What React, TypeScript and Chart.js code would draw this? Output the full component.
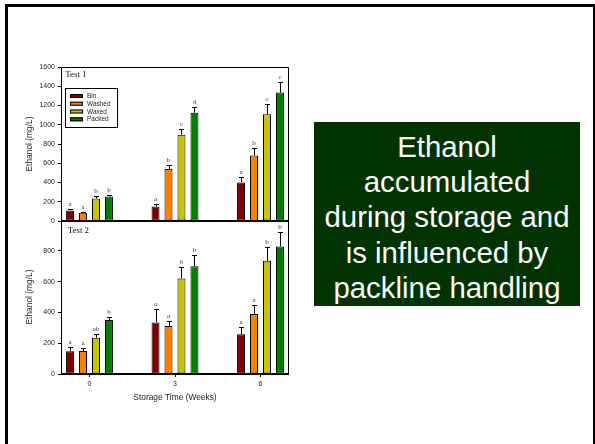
import React, { useEffect, useRef } from 'react';
import { Chart, registerables } from 'chart.js';
Chart.register(...registerables);

const FONT = '"Liberation Sans", Arial, sans-serif';
const SERIF = '"Liberation Serif", "Times New Roman", serif';

const weeks = [0, 3, 6];
const treatments = ['Bin', 'Washed', 'Waxed', 'Packed'];
const barColors = ['#800000', '#FF8000', '#C8C400', '#008000'];

// Test 1 (rows: Bin, Washed, Waxed, Packed; columns: week 0, 3, 6)
const test1Means = [
  [110, 150, 400],
  [85, 540, 680],
  [235, 895, 1110],
  [255, 1125, 1335],
];
const test1Errors = [
  [15, 30, 58],
  [8, 42, 80],
  [22, 60, 110],
  [20, 60, 105],
];
const test1Letters = [
  ['a', 'a', 'a'],
  ['a', 'b', 'b'],
  ['b', 'c', 'c'],
  ['b', 'd', 'c'],
];

// Test 2
const test2Means = [
  [148, 335, 258],
  [150, 312, 390],
  [235, 620, 735],
  [350, 700, 828],
];
const test2Errors = [
  [25, 90, 46],
  [22, 32, 55],
  [27, 72, 90],
  [18, 70, 92],
];
const test2Letters = [
  ['a', 'a', 'a'],
  ['a', 'a', 'a'],
  ['ab', 'b', 'b'],
  ['b', 'b', 'b'],
];

const test1YTicks = [0, 200, 400, 600, 800, 1000, 1200, 1400, 1600];
const test2YTicks = [0, 200, 400, 600, 800];
const weekTicks = [0, 3, 6];

function makePlugin(
  means: number[][],
  errors: number[][],
  letters: string[][],
  panelLabel: string,
  labelPos: [number, number],
  showLegend: boolean
) {
  return {
    id: 'panelDecor',
    afterDatasetsDraw(chart: any) {
      const { ctx, scales } = chart;
      const y = scales.y;
      ctx.save();
      ctx.strokeStyle = '#000';
      ctx.lineWidth = 1;
      chart.data.datasets.forEach((_ds: any, di: number) => {
        const meta = chart.getDatasetMeta(di);
        meta.data.forEach((bar: any, i: number) => {
          const mean = means[di][i];
          const err = errors[di][i];
          const xx = Math.round(bar.x) + 0.5;
          const yTop = bar.y;
          const yErr = Math.round(y.getPixelForValue(mean + err)) + 0.5;
          ctx.beginPath();
          ctx.moveTo(xx, yTop);
          ctx.lineTo(xx, yErr);
          ctx.moveTo(xx - 2.5, yErr);
          ctx.lineTo(xx + 2.5, yErr);
          ctx.stroke();
          ctx.fillStyle = '#333';
          ctx.font = `7px ${SERIF}`;
          ctx.textAlign = 'center';
          ctx.textBaseline = 'alphabetic';
          ctx.fillText(letters[di][i], bar.x, yErr - 3.5);
        });
      });
      ctx.restore();
    },
    afterDraw(chart: any) {
      const { ctx, chartArea } = chart;
      const { left, right, top, bottom } = chartArea;
      ctx.save();
      ctx.strokeStyle = '#000';
      ctx.lineWidth = 1;
      ctx.beginPath();
      ctx.moveTo(left + 0.5, bottom);
      ctx.lineTo(left + 0.5, top + 0.5);
      ctx.lineTo(right - 0.5, top + 0.5);
      ctx.lineTo(right - 0.5, bottom);
      ctx.stroke();
      ctx.lineWidth = 2;
      ctx.beginPath();
      ctx.moveTo(left, bottom);
      ctx.lineTo(right, bottom);
      ctx.stroke();

      ctx.fillStyle = '#111';
      ctx.font = `8.9px ${SERIF}`;
      ctx.textAlign = 'left';
      ctx.textBaseline = 'alphabetic';
      ctx.fillText(panelLabel, labelPos[0], labelPos[1]);

      if (showLegend) {
        ctx.lineWidth = 1;
        ctx.strokeRect(65.5, 88.5, 52, 39);
        const rows = [96, 103.7, 111.5, 119.3];
        treatments.forEach((t, k) => {
          const cy = rows[k];
          ctx.fillStyle = barColors[k];
          ctx.fillRect(70, cy - 2, 13, 4);
          ctx.strokeStyle = '#000';
          ctx.strokeRect(70.5, cy - 2 + 0.5, 12, 3);
          ctx.fillStyle = '#222';
          ctx.font = `6.5px ${FONT}`;
          ctx.textBaseline = 'middle';
          ctx.fillText(t, 87, cy + 0.3);
        });
      }
      ctx.restore();
    },
  };
}

function buildConfig(
  means: number[][],
  errors: number[][],
  letters: string[][],
  yMax: number,
  yTicks: number[],
  showX: boolean,
  padTop: number,
  padBottom: number,
  panelLabel: string,
  labelPos: [number, number],
  showLegend: boolean
): any {
  return {
    type: 'bar',
    data: {
      datasets: treatments.map((t, k) => ({
        label: t,
        data: weeks.map((w, i) => ({ x: w, y: means[k][i] })),
        backgroundColor: barColors[k],
        borderColor: '#000',
        borderWidth: 1,
        borderSkipped: false,
        categoryPercentage: 0.607,
        barPercentage: 0.615,
      })),
    },
    options: {
      responsive: false,
      animation: false,
      devicePixelRatio: 1,
      layout: { padding: { left: 0, right: 306, top: padTop, bottom: padBottom } },
      plugins: { legend: { display: false }, tooltip: { enabled: false } },
      scales: {
        x: {
          type: 'linear',
          min: -1,
          max: 7,
          offset: false,
          display: showX,
          afterBuildTicks: (s: any) => {
            s.ticks = weekTicks.map((v) => ({ value: v }));
          },
          afterFit: (s: any) => {
            s.height = showX ? 30 : 0;
          },
          grid: {
            display: true,
            offset: false,
            drawOnChartArea: false,
            drawTicks: true,
            tickLength: 3,
            color: '#000',
          },
          border: { display: false },
          ticks: {
            padding: 3,
            autoSkip: false,
            maxRotation: 0,
            font: { family: FONT, size: 7 },
            color: '#222',
            callback: (v: any) => String(v),
          },
          title: {
            display: true,
            text: 'Storage Time (Weeks)',
            font: { family: FONT, size: 8.4 },
            color: '#222',
            padding: { top: 0, bottom: 1 },
          },
        },
        y: {
          type: 'linear',
          min: 0,
          max: yMax,
          afterBuildTicks: (s: any) => {
            s.ticks = yTicks.map((v) => ({ value: v }));
          },
          afterFit: (s: any) => {
            s.width = 61;
          },
          grid: {
            display: true,
            drawOnChartArea: false,
            drawTicks: true,
            tickLength: 3,
            color: '#000',
          },
          border: { display: false },
          ticks: {
            padding: 3,
            font: { family: FONT, size: 7 },
            color: '#222',
            callback: (v: any) => String(v),
          },
          title: {
            display: true,
            text: 'Ethanol (mg/L)',
            font: { family: FONT, size: 8.4 },
            color: '#222',
            padding: { top: 25, bottom: 0 },
          },
        },
      },
    },
    plugins: [makePlugin(means, errors, letters, panelLabel, labelPos, showLegend)],
  };
}

export default function App() {
  const topRef = useRef<HTMLCanvasElement>(null);
  const botRef = useRef<HTMLCanvasElement>(null);

  useEffect(() => {
    const c1 = new Chart(
      topRef.current as HTMLCanvasElement,
      buildConfig(test1Means, test1Errors, test1Letters, 1600, test1YTicks, false, 67, 223, 'Test 1', [65.3, 77], true)
    );
    const c2 = new Chart(
      botRef.current as HTMLCanvasElement,
      buildConfig(test2Means, test2Errors, test2Letters, 1000, test2YTicks, true, 220, 40, 'Test 2', [67.7, 232.7], false)
    );
    return () => {
      c1.destroy();
      c2.destroy();
    };
  }, []);

  return (
    <div
      style={{
        position: 'fixed',
        left: 0,
        top: 0,
        width: 595,
        height: 444,
        background: '#fff',
        overflow: 'hidden',
      }}
    >
      <div
        style={{
          position: 'absolute',
          left: 5,
          top: 4,
          width: 591,
          height: 470,
          border: '3px solid #000',
          boxSizing: 'border-box',
        }}
      />
      <canvas ref={topRef} width={595} height={444} style={{ position: 'absolute', left: 0, top: 0, display: 'block' }} />
      <canvas ref={botRef} width={595} height={444} style={{ position: 'absolute', left: 0, top: 0, display: 'block' }} />
      <div
        style={{
          position: 'absolute',
          left: 314,
          top: 122,
          width: 266,
          height: 184,
          background: '#003300',
          color: '#fff',
          fontFamily: FONT,
          fontSize: 29.4,
          lineHeight: '35.2px',
          textAlign: 'center',
          paddingTop: 7,
          boxSizing: 'border-box',
          whiteSpace: 'nowrap',
        }}
      >
        Ethanol
        <br />
        accumulated
        <br />
        during storage and
        <br />
        is influenced by
        <br />
        packline handling
      </div>
    </div>
  );
}
